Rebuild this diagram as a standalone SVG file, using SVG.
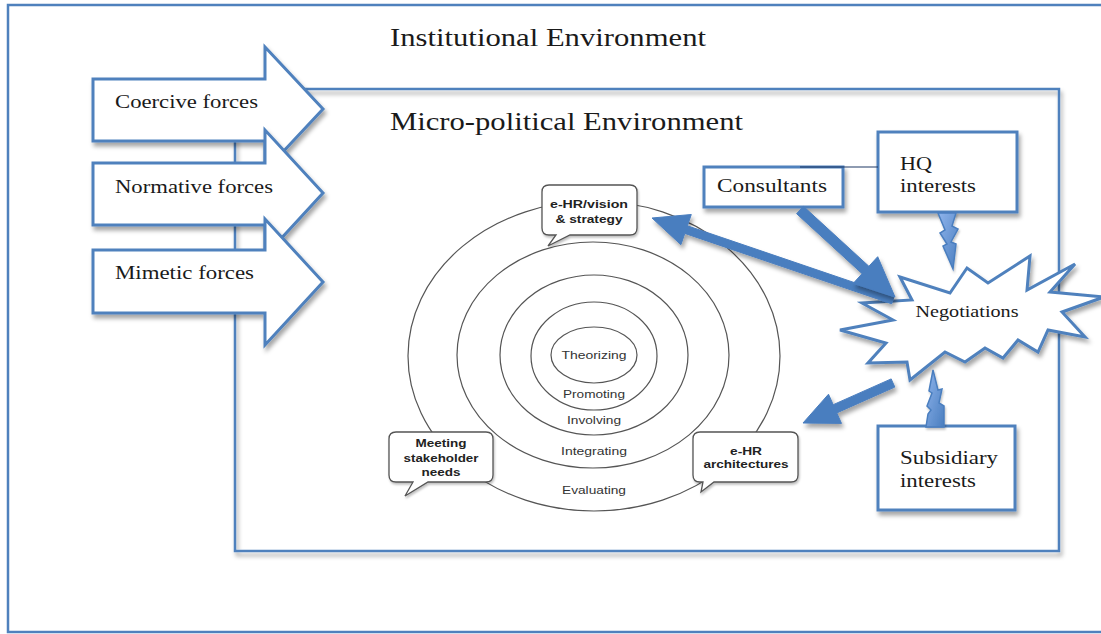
<svg xmlns="http://www.w3.org/2000/svg" width="1101" height="634" viewBox="0 0 1101 634">
<defs>
<filter id="sh" x="-20%" y="-20%" width="140%" height="150%">
<feDropShadow dx="2" dy="4" stdDeviation="2" flood-color="#000" flood-opacity="0.35"/>
</filter>
<filter id="shs" x="-20%" y="-20%" width="140%" height="150%">
<feDropShadow dx="1" dy="2" stdDeviation="1.2" flood-color="#000" flood-opacity="0.25"/>
</filter>
<linearGradient id="bolt" x1="0" y1="0" x2="1" y2="1">
<stop offset="0" stop-color="#8fb4ec"/>
<stop offset="1" stop-color="#4a7ebf"/>
</linearGradient>
</defs>
<style>
.frame{fill:none;stroke:#4f81bd;stroke-width:2.5}
.box{fill:#fff;stroke:#4f81bd;stroke-width:3}
.force{fill:#fff;stroke:#4f81bd;stroke-width:3;stroke-linejoin:miter}
.ser{font-family:"Liberation Serif","Times New Roman",serif;fill:#1a1a1a}
.ring{fill:none;stroke:#555;stroke-width:1.2}
.rt{font-family:"Liberation Sans",Arial,sans-serif;font-size:11.5px;fill:#333;text-anchor:middle}
.bub{fill:#fff;stroke:#555;stroke-width:1.3}
.bt{font-family:"Liberation Sans",Arial,sans-serif;font-size:11px;font-weight:bold;fill:#222;text-anchor:middle}
.arr{fill:#4a7ebf;stroke:#4a7ebf;stroke-width:1;stroke-linejoin:round}
.bolt{fill:url(#bolt);stroke:#4a7ebf;stroke-width:1.5;stroke-linejoin:miter}
</style>

<rect id="institutional-frame" x="8" y="5" width="1110" height="627" class="frame"/>
<text class="ser" x="390" y="46" font-size="25.5" textLength="316" lengthAdjust="spacingAndGlyphs">Institutional Environment</text>

<g id="micro-political-environment">
<rect x="235" y="89" width="824" height="462" class="frame" filter="url(#sh)"/>
<text class="ser" x="390" y="130" font-size="25.5" textLength="353" lengthAdjust="spacingAndGlyphs">Micro-political Environment</text>
</g>

<g id="coercive-forces">
<polygon class="force" filter="url(#sh)" points="93,79 265,79 265,47 323,109 265,171 265,141 93,141"/>
<text class="ser" x="115" y="108" font-size="19" textLength="143" lengthAdjust="spacingAndGlyphs">Coercive forces</text>
</g>
<g id="normative-forces">
<polygon class="force" filter="url(#sh)" points="93,163 265,163 265,130 323,193 265,256 265,225 93,225"/>
<text class="ser" x="115" y="193" font-size="19" textLength="158" lengthAdjust="spacingAndGlyphs">Normative forces</text>
</g>
<g id="mimetic-forces">
<polygon class="force" filter="url(#sh)" points="93,250 265,250 265,219 323,282 265,345 265,313 93,313"/>
<text class="ser" x="115" y="279" font-size="19" textLength="139" lengthAdjust="spacingAndGlyphs">Mimetic forces</text>
</g>

<g id="ring-evaluating">
<ellipse class="ring" cx="594" cy="356" rx="186" ry="155"/>
<text class="rt" x="594" y="494" textLength="64" lengthAdjust="spacingAndGlyphs">Evaluating</text>
</g>
<g id="ring-integrating">
<ellipse class="ring" cx="593" cy="355" rx="136" ry="113"/>
<text class="rt" x="594" y="455" textLength="66" lengthAdjust="spacingAndGlyphs">Integrating</text>
</g>
<g id="ring-involving">
<ellipse class="ring" cx="594" cy="355" rx="94" ry="80"/>
<text class="rt" x="594" y="424" textLength="54" lengthAdjust="spacingAndGlyphs">Involving</text>
</g>
<g id="ring-promoting">
<ellipse class="ring" cx="594" cy="356" rx="63" ry="54"/>
<text class="rt" x="594" y="398" textLength="62" lengthAdjust="spacingAndGlyphs">Promoting</text>
</g>
<g id="ring-theorizing">
<ellipse class="ring" cx="594" cy="355" rx="43" ry="28"/>
<text class="rt" x="594" y="359" textLength="65" lengthAdjust="spacingAndGlyphs">Theorizing</text>
</g>

<g id="bubble-vision">
<path class="bub" filter="url(#shs)" d="M549,185 H630 Q637,185 637,192 V228 Q637,235 630,235 H570 L548,246 L556,235 H549 Q542,235 542,228 V192 Q542,185 549,185 Z"/>
<text class="bt" x="589" y="208" textLength="78" lengthAdjust="spacingAndGlyphs">e-HR/vision</text>
<text class="bt" x="589" y="223" textLength="67" lengthAdjust="spacingAndGlyphs">&amp; strategy</text>
</g>
<g id="bubble-stakeholder">
<path class="bub" filter="url(#shs)" d="M396,432 H486 Q493,432 493,439 V475 Q493,482 486,482 H428 L405,496 L413,482 H396 Q389,482 389,475 V439 Q389,432 396,432 Z"/>
<text class="bt" x="441" y="447" textLength="51" lengthAdjust="spacingAndGlyphs">Meeting</text>
<text class="bt" x="441" y="462" textLength="75" lengthAdjust="spacingAndGlyphs">stakeholder</text>
<text class="bt" x="441" y="476" textLength="39" lengthAdjust="spacingAndGlyphs">needs</text>
</g>
<g id="bubble-architectures">
<path class="bub" filter="url(#shs)" d="M700,432 H791 Q798,432 798,439 V475 Q798,482 791,482 H714 L701,492 L703,482 H700 Q693,482 693,475 V439 Q693,432 700,432 Z"/>
<text class="bt" x="746" y="455" textLength="32" lengthAdjust="spacingAndGlyphs">e-HR</text>
<text class="bt" x="746" y="468" textLength="85" lengthAdjust="spacingAndGlyphs">architectures</text>
</g>

<g id="hq-interests">
<rect class="box" filter="url(#sh)" x="878" y="132" width="139" height="80"/>
<text class="ser" x="900" y="170" font-size="19.5" textLength="32" lengthAdjust="spacingAndGlyphs">HQ</text>
<text class="ser" x="900" y="192" font-size="19.5" textLength="76" lengthAdjust="spacingAndGlyphs">interests</text>
</g>
<g id="consultants">
<rect class="box" filter="url(#sh)" x="704" y="167" width="139" height="40"/>
<text class="ser" x="717" y="192" font-size="19.5" textLength="110" lengthAdjust="spacingAndGlyphs">Consultants</text>
</g>
<g id="subsidiary-interests">
<rect class="box" filter="url(#sh)" x="878" y="426" width="137" height="84"/>
<text class="ser" x="900" y="464" font-size="19.5" textLength="98" lengthAdjust="spacingAndGlyphs">Subsidiary</text>
<text class="ser" x="900" y="487" font-size="19.5" textLength="76" lengthAdjust="spacingAndGlyphs">interests</text>
</g>

<g id="negotiations">
<polygon class="box" filter="url(#sh)" points="900,277 950,293 967,268 988,283 1030,256 1027,290 1075,264 1050,292 1104,297 1062,312 1085,337 1048,330 1038,352 1018,340 1003,358 985,348 965,362 945,352 910,380 907,362 868,363 886,343 840,330 893,320 862,303 912,300"/>
<text class="ser" x="967" y="317" font-size="17" text-anchor="middle" textLength="103" lengthAdjust="spacingAndGlyphs">Negotiations</text>
</g>

<g id="connectors">
<line x1="800" y1="167" x2="878" y2="167" stroke="#1f3864" stroke-width="1.2"/>
<polygon class="arr" filter="url(#sh)" points="652,218 691.3,214.5 687.4,225.8 894.3,296.2 891.7,303.8 684.8,233.4 680.9,244.7"/>
<polygon class="arr" filter="url(#sh)" points="895,297 877.7,256.7 868.9,266.3 803.4,206.3 796.6,213.7 862.1,273.7 853.3,283.3"/>
<polygon class="arr" filter="url(#sh)" points="803,423 841.5,423.4 836.8,412.9 894.8,387.1 891.2,378.9 833.2,404.7 828.5,394.2"/>
<polygon class="bolt" filter="url(#shs)" points="938,213 956,213 952,226 958,229 951,242 956,244 953,269 943,246 947,244 940,233 945,230"/>
<polygon class="bolt" filter="url(#shs)" points="933,370 938,390 942,389 939,403 944,406 944,427 926,427 928,414 931,410 927,406 932,393 929,391"/>
</g>
</svg>
